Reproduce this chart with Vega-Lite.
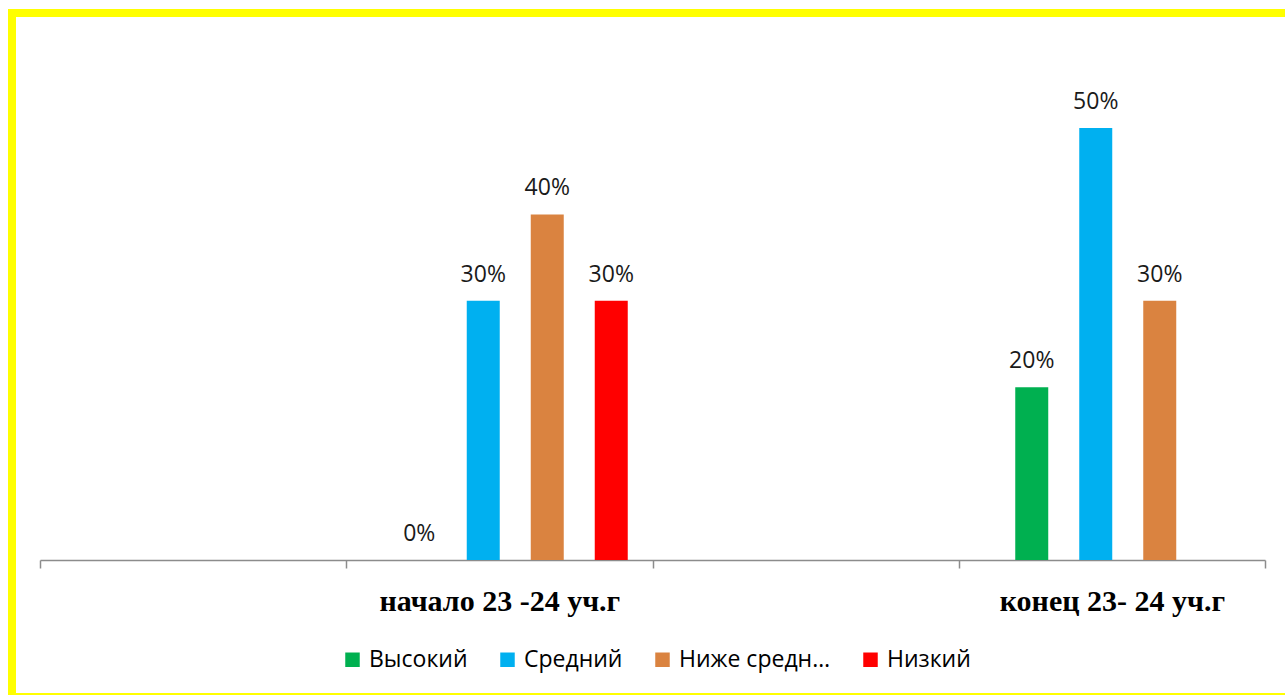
{
  "$schema": "https://vega.github.io/schema/vega-lite/v6.json",
  "autosize": {"type": "none"},
  "width": 1278,
  "height": 684,
  "padding": {"left": 12, "top": 13, "right": -5, "bottom": -2},
  "background": "#ffffff",
  "config": {
    "view": {"stroke": "#FFFF00", "strokeWidth": 8},
    "axis": {"grid": false}
  },
  "data": {
    "values": [
      {"period": "начало 23 -24 уч.г", "level": "Высокий", "value": 0},
      {"period": "начало 23 -24 уч.г", "level": "Средний", "value": 0.3},
      {"period": "начало 23 -24 уч.г", "level": "Ниже среднего", "value": 0.4},
      {"period": "начало 23 -24 уч.г", "level": "Низкий", "value": 0.3},
      {"period": "конец 23- 24 уч.г", "level": "Высокий", "value": 0.2},
      {"period": "конец 23- 24 уч.г", "level": "Средний", "value": 0.5},
      {"period": "конец 23- 24 уч.г", "level": "Ниже среднего", "value": 0.3}
    ]
  },
  "encoding": {
    "x": {
      "field": "period",
      "type": "nominal",
      "scale": {
        "domain": ["_1", "начало 23 -24 уч.г", "_2", "конец 23- 24 уч.г"],
        "range": [28, 1253],
        "paddingInner": 0,
        "paddingOuter": 0
      },
      "axis": {
        "title": null,
        "orient": "bottom",
        "offset": -137,
        "tickBand": "extent",
        "tickSize": 8,
        "tickColor": "#8c8c8c",
        "tickWidth": 1.5,
        "domainColor": "#8c8c8c",
        "domainWidth": 1.5,
        "labelAngle": 0,
        "labelLimit": 600,
        "labelFont": "Liberation Serif",
        "labelFontWeight": "bold",
        "labelFontSize": 30,
        "labelColor": "#000000",
        "labelBaseline": "alphabetic",
        "labelPadding": 42,
        "labelExpr": "(datum.value == '_1' || datum.value == '_2') ? '' : datum.label"
      }
    },
    "xOffset": {
      "field": "level",
      "type": "nominal",
      "scale": {
        "domain": ["Высокий", "Средний", "Ниже среднего", "Низкий"],
        "range": [41, 297],
        "paddingInner": 0.4844,
        "paddingOuter": 0.2422
      }
    },
    "y": {
      "field": "value",
      "type": "quantitative",
      "stack": null,
      "scale": {"domain": [-0.1586, 0.6331], "nice": false},
      "axis": null
    }
  },
  "layer": [
    {
      "mark": {"type": "bar"},
      "encoding": {
        "color": {
          "field": "level",
          "type": "nominal",
          "scale": {
            "domain": ["Высокий", "Средний", "Ниже среднего", "Низкий"],
            "range": ["#00B050", "#00B0F0", "#DA8340", "#FF0000"]
          },
          "legend": {
            "title": null,
            "orient": "none",
            "direction": "horizontal",
            "legendX": 329,
            "legendY": 635,
            "symbolType": "square",
            "symbolSize": 210,
            "symbolStrokeWidth": 0,
            "labelFont": "Open Sans",
            "labelFontSize": 23,
            "labelColor": "#000000",
            "labelOffset": 5,
            "columnPadding": 28
          }
        }
      }
    },
    {
      "mark": {
        "type": "text",
        "baseline": "alphabetic",
        "dy": -19,
        "font": "Open Sans",
        "fontSize": 23,
        "color": "#1a1a1a"
      },
      "encoding": {
        "text": {"field": "value", "type": "quantitative", "format": ".0%"}
      }
    }
  ]
}
